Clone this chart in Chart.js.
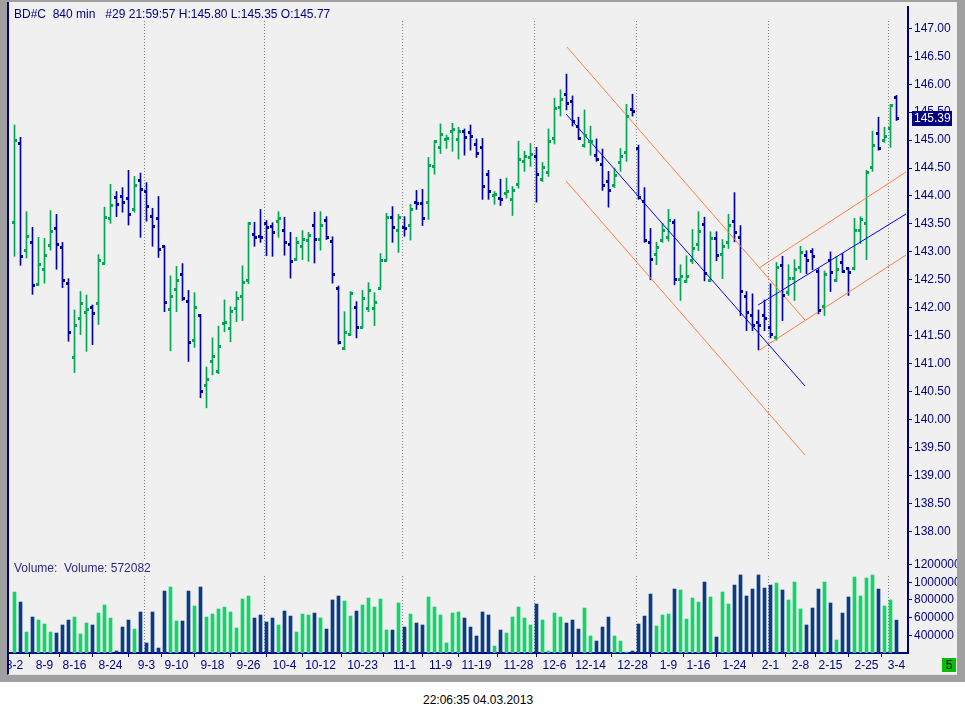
<!DOCTYPE html>
<html>
<head>
<meta charset="utf-8">
<script src="https://cdn.jsdelivr.net/npm/chart.js@4.4.0/dist/chart.umd.min.js"></script>
<style>
  body { margin: 0; width: 965px; height: 716px; overflow: hidden; background: #fff;
         font-family: "Liberation Sans", Arial, sans-serif; font-size: 12px; }
  #frame { position: absolute; left: 0; top: 0; width: 965px; height: 682px; background: #a0a0a0; }
  #panel { position: absolute; left: 7px; top: 2px; width: 950px; height: 673px; background: #f0f0f0;
           border-left: 2px solid #000080; border-bottom: 1px solid #e4e4e4; box-sizing: border-box; }
  #priceChart { position: absolute; left: 0; top: -5px; }
  #volWrap { position: absolute; left: 8px; top: 545px; width: 949px; height: 130px; overflow: hidden; }
  #volumeChart { position: absolute; left: -30px; top: 0; }
  .txt { position: absolute; white-space: pre; line-height: 14px; }
  #header { left: 14px; top: 7px; color: #000080; }
  #volText { left: 14px; top: 561px; color: #2a2a7c; }
  #stamp { left: 423px; top: 693px; color: #000; }
  #badge { position: absolute; left: 942px; top: 658px; width: 14px; height: 14px; background: #00c000;
           color: #000; text-align: center; line-height: 14px; }
</style>
</head>
<body>
<div id="frame"></div>
<div id="panel"></div>
<canvas id="priceChart" width="965" height="574" style="width:965px;height:574px"></canvas>
<div id="volWrap"><canvas id="volumeChart" width="987" height="131" style="width:987px;height:131px"></canvas></div>
<div class="txt" id="header">BD#C  840 min   #29 21:59:57 H:145.80 L:145.35 O:145.77</div>
<div class="txt" id="volText">Volume:  Volume: 572082</div>
<div id="badge">5</div>
<div class="txt" id="stamp">22:06:35 04.03.2013</div>
<script>
// Barras de 840 min, BD#C
const opens = [
  143.52,144.94,143.02,143.16,142.42,142.69,143.11,143.41,143.07,142.44,
  141.11,141.80,141.92,142.01,142.08,142.80,143.59,143.97,143.99,143.95,
  143.75,144.27,144.08,143.63,143.59,143.09,141.96,142.32,142.60,142.12,
  141.42,141.87,140.61,141.03,140.86,141.71,141.62,141.98,142.21,142.48,
  143.31,143.27,143.51,143.45,143.54,143.38,143.13,142.87,143.09,143.20,
  143.48,143.22,143.56,143.18,142.35,141.28,141.52,142.01,141.65,141.98,
  141.99,142.35,142.85,143.62,143.38,143.43,143.48,143.88,143.86,143.88,
  144.53,144.87,145.01,145.15,145.01,145.15,145.14,144.92,144.87,144.38,
  144.01,143.95,144.04,143.93,144.20,144.62,144.69,144.71,144.29,144.42,
  145.03,145.59,145.82,145.69,145.24,144.90,144.97,144.72,144.56,144.26,
  144.18,144.60,144.78,145.55,144.85,143.90,143.17,142.96,143.20,143.26,
  143.53,142.50,142.47,142.84,143.13,143.49,142.48,143.24,142.95,143.17,
  143.54,143.26,142.20,141.86,141.73,141.86,141.64,141.46,142.75,142.27,
  142.52,142.72,142.93,143.00,142.65,142.02,142.84,142.48,142.81,142.70,
  142.70,143.38,143.51,144.51,145.11,145.00,145.20,145.77
];
const highs = [
  145.27,145.05,143.72,143.44,143.26,143.24,143.74,143.67,143.17,142.52,
  141.96,142.29,142.23,142.05,142.95,143.80,144.21,144.08,144.15,144.46,
  144.35,144.41,144.24,143.78,143.99,143.10,142.57,142.74,142.79,142.31,
  142.27,141.88,140.94,141.46,141.67,142.14,142.02,142.29,142.75,143.53,
  143.53,143.76,143.56,143.52,143.72,143.62,143.35,143.26,143.38,143.35,
  143.71,143.72,143.63,143.27,142.39,141.93,142.29,142.11,142.31,142.45,
  142.27,142.97,143.69,143.81,143.67,143.63,143.85,144.10,144.12,144.69,
  144.98,145.29,145.09,145.30,145.23,145.20,145.27,145.02,145.03,144.46,
  144.08,144.30,144.32,144.17,144.98,144.80,144.94,144.87,144.60,145.20,
  145.75,145.90,146.18,145.79,145.41,145.54,145.25,145.02,144.84,144.44,
  144.50,144.85,145.64,145.82,144.91,144.15,143.42,143.17,143.51,143.76,
  143.58,142.77,142.93,143.40,143.72,143.62,143.36,143.36,143.22,143.67,
  144.06,143.47,142.29,142.25,141.96,142.14,142.43,142.81,142.92,142.77,
  142.86,143.10,143.02,143.06,142.70,142.66,143.00,142.92,142.97,142.72,
  143.60,143.63,144.46,145.16,145.41,145.23,145.64,145.80
];
const lows = [
  142.92,142.76,142.89,142.24,142.40,142.44,143.03,142.69,142.36,141.40,
  140.84,141.52,141.22,141.34,141.70,142.79,143.51,143.63,143.71,143.48,
  143.71,143.26,143.55,143.10,142.90,141.93,141.23,141.93,142.13,141.04,
  141.29,140.39,140.21,140.80,140.82,141.57,141.39,141.75,141.77,142.43,
  143.10,143.17,142.93,142.92,143.26,142.94,142.53,142.85,142.86,142.83,
  142.80,143.03,143.22,142.44,141.35,141.25,141.51,141.46,141.64,141.93,
  141.68,142.35,142.84,143.17,142.99,143.28,143.21,143.76,143.47,143.58,
  144.39,144.76,144.85,144.80,144.66,144.73,144.82,144.69,143.94,143.94,
  143.85,143.83,143.96,143.65,144.14,144.44,144.53,143.89,144.26,144.35,
  144.93,145.43,145.54,145.25,145.02,144.87,144.73,144.62,144.10,143.80,
  144.15,144.44,144.62,145.43,143.94,143.17,142.50,142.77,143.17,143.19,
  142.41,142.13,142.45,142.79,143.02,142.48,142.47,142.84,142.52,143.06,
  143.18,141.86,141.59,141.59,141.25,141.59,141.46,141.42,141.77,142.22,
  142.13,142.63,142.61,142.68,141.89,141.86,142.29,142.47,142.63,142.22,
  142.68,143.15,142.86,144.44,144.82,144.96,144.87,145.35
];
const closes = [
  144.99,142.91,143.27,142.39,142.78,142.93,143.36,143.14,142.48,141.55,
  141.69,142.07,141.96,141.89,142.84,143.61,143.83,143.84,143.88,143.66,
  144.18,144.11,143.81,143.45,143.05,142.10,142.21,142.48,142.17,141.38,
  142.01,140.50,140.72,141.13,141.31,141.73,141.94,142.17,142.46,143.50,
  143.25,143.25,143.43,143.34,143.59,143.16,142.82,143.16,143.23,143.29,
  143.22,143.47,143.25,142.59,141.37,141.56,142.25,141.65,142.17,142.30,
  142.10,142.84,143.61,143.43,143.61,143.42,143.75,143.87,143.59,144.55,
  144.97,145.10,145.03,145.19,145.15,145.05,145.06,144.76,144.17,144.08,
  144.02,143.93,144.08,144.10,144.65,144.71,144.74,144.38,144.51,144.97,
  145.57,145.73,145.66,145.33,145.03,145.08,144.98,144.65,144.19,144.10,
  144.36,144.71,145.42,145.51,143.97,143.20,142.86,143.07,143.38,143.56,
  142.50,142.56,142.56,143.06,143.36,142.61,143.24,142.93,143.10,143.47,
  143.35,142.29,141.91,141.68,141.68,141.80,141.53,142.72,142.22,142.52,
  142.68,142.99,142.84,142.92,141.95,142.59,142.63,142.68,142.65,142.63,
  143.38,143.58,144.42,144.91,144.85,145.07,145.61,145.39
];
const volumes = [
  890000,777000,437000,607000,573000,528000,437000,426000,517000,573000,
  607000,415000,539000,517000,652000,743000,596000,222000,494000,573000,
  471000,664000,313000,664000,256000,901000,947000,562000,562000,901000,
  732000,947000,607000,641000,698000,720000,664000,483000,811000,845000,
  596000,630000,551000,596000,517000,675000,618000,437000,641000,630000,
  652000,596000,471000,800000,845000,788000,618000,675000,743000,822000,
  720000,811000,460000,460000,766000,494000,641000,539000,517000,834000,
  720000,630000,313000,652000,664000,596000,494000,392000,664000,630000,
  279000,460000,426000,607000,720000,596000,517000,754000,573000,222000,
  652000,607000,539000,573000,471000,709000,392000,335000,494000,607000,
  392000,335000,211000,222000,528000,618000,867000,505000,630000,641000,
  924000,913000,584000,822000,777000,1003000,834000,381000,890000,754000,
  969000,1083000,845000,924000,1083000,935000,969000,992000,913000,800000,
  1003000,698000,517000,709000,924000,1003000,766000,347000,652000,834000,
  1060000,845000,1049000,1083000,924000,732000,800000,572082
];

// eixo de datas (índice da barra -> rótulo)
const dateTicks = [0,5,10,16,22,27,33,39,45,51,58,65,71,77,84,90,96,103,109,114,120,126,131,136,142,147];
const dateLabels = ['8-2','8-9','8-16','8-24','9-3','9-10','9-18','9-26','10-4','10-12','10-23','11-1','11-9',
  '11-19','11-28','12-6','12-14','12-28','1-9','1-16','1-24','2-1','2-8','2-15','2-25','3-4'];
const monthStarts = [22, 42, 65, 87, 104, 126, 146];
const priceTicks = [138,138.5,139,139.5,140,140.5,141,141.5,142,142.5,143,143.5,144,144.5,145,145.5,146,146.5,147];
const volumeTicks = [400000, 600000, 800000, 1000000, 1200000];

// linhas de tendência [índice, preço]
const downMid   = [[91.92, 145.467], [131.75, 140.60]];
const downUpper = [[92.08, 146.665], [131.75, 141.78]];
const downLower = [[91.92, 144.268], [131.75, 139.365]];
const upMid     = [[123.92, 142.049], [148.58, 143.677]];
const upUpper   = [[124.08, 142.711], [148.58, 144.429]];
const upLower   = [[123.92, 141.226], [148.58, 142.944]];

const NAVY = '#000080';
const UP = '#00a651';
const DOWN = '#0000a8';
const VOL_UP = '#12d46a';
const VOL_DOWN = '#0a3c84';
const X_MIN = -1 - 1 / 12;
const X_MAX = X_MIN + 150;

Chart.defaults.font.family = '"Liberation Sans", Arial, sans-serif';
Chart.defaults.font.size = 12;
Chart.defaults.color = NAVY;

const isUp = (i) => closes[i] >= opens[i];
const toPts = (arr) => arr.map(([x, y]) => ({ x, y }));
const trend = (arr, color) => ({
  type: 'line', data: toPts(arr), borderColor: color, borderWidth: 1,
  pointRadius: 0, fill: false, tension: 0, order: 0
});

// linhas pontilhadas de início de mês
function monthLines(topGap) {
  return {
    id: 'monthLines',
    beforeDatasetsDraw(chart) {
      const { ctx, chartArea, scales: { x } } = chart;
      ctx.save();
      ctx.strokeStyle = '#808080';
      ctx.lineWidth = 1;
      ctx.setLineDash([1, 2]);
      monthStarts.forEach(m => {
        const px = Math.floor(x.getPixelForValue(m - 0.3)) + 0.5;
        ctx.beginPath();
        ctx.moveTo(px, chartArea.top + topGap);
        ctx.lineTo(px, chartArea.bottom);
        ctx.stroke();
      });
      ctx.restore();
    }
  };
}

// abertura/fechamento + etiqueta do último preço
const ohlcTicks = {
  id: 'ohlcTicks',
  afterDatasetsDraw(chart) {
    const { ctx, scales: { x, y } } = chart;
    ctx.save();
    for (let i = 0; i < opens.length; i++) {
      const px = x.getPixelForValue(i);
      ctx.fillStyle = isUp(i) ? UP : DOWN;
      ctx.fillRect(px - 2.5, Math.round(y.getPixelForValue(opens[i]) - 1.5), 3, 3);
      ctx.fillRect(px - 0.5, Math.round(y.getPixelForValue(closes[i]) - 1.5), 3, 3);
    }
    ctx.restore();
  },
  afterDraw(chart) {
    const { ctx, chartArea, scales: { y } } = chart;
    const last = closes[closes.length - 1];
    const py = Math.round(y.getPixelForValue(last));
    ctx.save();
    ctx.fillStyle = NAVY;
    ctx.fillRect(chartArea.right + 4, py - 7, 40, 15);
    ctx.fillStyle = '#fff';
    ctx.textBaseline = 'middle';
    ctx.fillText(last.toFixed(2), chartArea.right + 6, py + 1);
    ctx.restore();
  }
};

new Chart(document.getElementById('priceChart'), {
  type: 'bar',
  data: {
    datasets: [
      {
        type: 'bar',
        data: highs.map((h, i) => ({ x: i, y: [lows[i], h] })),
        backgroundColor: highs.map((h, i) => isUp(i) ? UP : DOWN),
        barThickness: 1,
        borderWidth: 0,
        order: 1
      },
      trend(downMid, '#0000ff'),
      trend(downUpper, '#ff8040'),
      trend(downLower, '#ff8040'),
      trend(upMid, '#0000ff'),
      trend(upUpper, '#ff8040'),
      trend(upLower, '#ff8040')
    ]
  },
  options: {
    responsive: false,
    animation: false,
    devicePixelRatio: 1,
    events: [],
    layout: { padding: { left: 8, right: 8, top: 12, bottom: 10 } },
    plugins: { legend: { display: false }, tooltip: { enabled: false } },
    scales: {
      x: { type: 'linear', min: X_MIN, max: X_MAX, offset: false, display: false },
      y: {
        position: 'right',
        min: 137.505,
        max: 147.381,
        afterBuildTicks: (ax) => { ax.ticks = priceTicks.map(v => ({ value: v })); },
        afterFit: (ax) => { ax.width = 49; },
        grid: { drawOnChartArea: false, tickLength: 4, color: NAVY },
        border: { display: true, color: NAVY, width: 2 },
        ticks: { color: NAVY, padding: 2, callback: (v) => Number(v).toFixed(2) }
      }
    }
  },
  plugins: [monthLines(14), ohlcTicks]
});

new Chart(document.getElementById('volumeChart'), {
  type: 'bar',
  data: {
    datasets: [{
      data: volumes.map((v, i) => ({ x: i, y: v })),
      backgroundColor: volumes.map((v, i) => isUp(i) ? VOL_UP : VOL_DOWN),
      barThickness: 3,
      borderWidth: 0
    }]
  },
  options: {
    responsive: false,
    animation: false,
    devicePixelRatio: 1,
    events: [],
    layout: { padding: { left: 30, right: 8, top: 14, bottom: 1 } },
    plugins: { legend: { display: false }, tooltip: { enabled: false } },
    scales: {
      x: {
        type: 'linear', min: X_MIN, max: X_MAX, offset: false,
        afterBuildTicks: (ax) => { ax.ticks = dateTicks.map(v => ({ value: v })); },
        afterFit: (ax) => { ax.height = 22; },
        grid: { drawOnChartArea: false, tickLength: 4, color: NAVY },
        border: { display: true, color: NAVY, width: 2 },
        ticks: { autoSkip: false, maxRotation: 0, padding: 1, color: NAVY,
                 callback: (v, i) => dateLabels[i] }
      },
      y: {
        position: 'right',
        min: 200000,
        max: 1264000,
        afterBuildTicks: (ax) => { ax.ticks = volumeTicks.map(v => ({ value: v })); },
        afterFit: (ax) => { ax.width = 49; },
        grid: { drawOnChartArea: false, tickLength: 4, color: NAVY },
        border: { display: true, color: NAVY, width: 2 },
        ticks: { color: NAVY, padding: 2, callback: (v) => String(v) }
      }
    }
  },
  plugins: [monthLines(17)]
});
</script>
</body>
</html>
